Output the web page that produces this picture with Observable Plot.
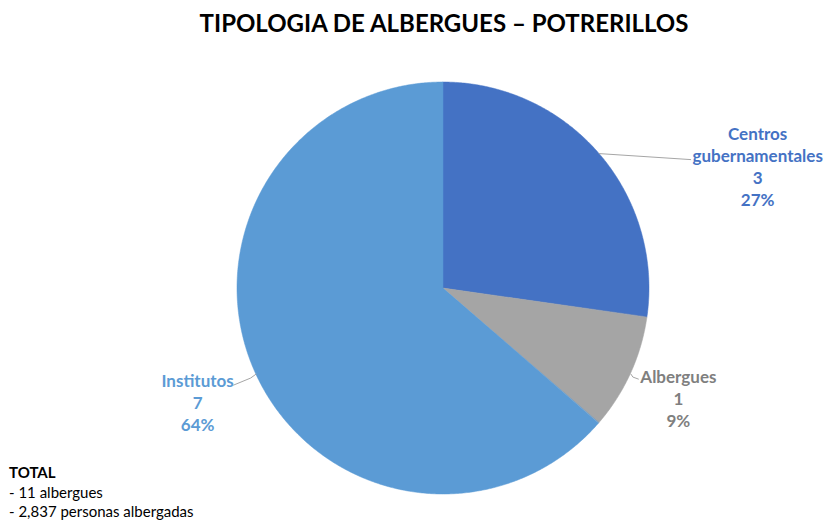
<!DOCTYPE html>
<html>
<head>
<meta charset="utf-8">
<script src="https://cdn.jsdelivr.net/npm/d3@7"></script>
<script src="https://cdn.jsdelivr.net/npm/@observablehq/plot@0.6"></script>
<style>
  html, body { margin: 0; padding: 0; background: #fff; }
  body { width: 824px; height: 521px; position: relative; overflow: hidden; font-family: Lato, "Open Sans", sans-serif; }
  #title { height: 50px; line-height: 46px; text-align: center; font-weight: 700; font-size: 24px; color: #000; padding-left: 64px; }
  #notes { position: absolute; left: 9px; top: 463px; font-size: 15px; line-height: 19.5px; color: #000; }
  #notes b { font-weight: 700; }
</style>
</head>
<body>
<div id="title">TIPOLOGIA DE ALBERGUES – POTRERILLOS</div>
<div id="chart"></div>
<div id="notes"><b>TOTAL</b><br>- 11 albergues<br>- 2,837 personas albergadas</div>
<script>
// ---- data ----
const categories = ["Centros gubernamentales", "Albergues", "Institutos"];
const counts = [3, 1, 7];
const sliceColors = ["#4472C4", "#A5A5A5", "#5B9BD5"];
const labelColors = ["#4472C4", "#7F7F7F", "#5B9BD5"];

// ---- layout (pixels) ----
const R = 206;
const labelOffset = [[158.5, 12.5], [47.5, 24], [-58.5, 28]];
const leaderOffsets = [
  [[0, 0], [91.5, 6]],
  [[0, 0], [2, 3], [7.5, 5]],
  [[0, 0], [-5.5, 4], [-22.5, 11]]
];

const total = d3.sum(counts);
const arcs = d3.pie().sort(null).value(d => d)(counts);

// wedge polygons
const wedges = [];
arcs.forEach((a, i) => {
  const n = Math.max(2, Math.ceil((a.endAngle - a.startAngle) / (Math.PI / 360)));
  for (let k = 0; k <= n; k++) {
    const t = a.startAngle + (a.endAngle - a.startAngle) * k / n;
    wedges.push({cat: categories[i], x1: 0, y1: 0, x2: R * Math.sin(t), y2: R * Math.cos(t)});
  }
});

const mids = arcs.map(a => {
  const m = (a.startAngle + a.endAngle) / 2;
  return [R * Math.sin(m), R * Math.cos(m)];
});

const leaders = [];
leaderOffsets.forEach((pts, i) => {
  pts.forEach(([dx, dy]) => leaders.push({cat: categories[i], x: mids[i][0] + dx, y: mids[i][1] - dy}));
});

const labels = categories.map((c, i) => ({
  cat: c,
  x: mids[i][0] + labelOffset[i][0],
  y: mids[i][1] - labelOffset[i][1],
  text: `${c.replace(" ", "\n")}\n${counts[i]}\n${Math.round(counts[i] / total * 100)}%`,
  color: labelColors[i]
}));

const chart = Plot.plot({
  width: 824,
  height: 471,
  margin: 0,
  x: {domain: [-443, 381], range: [0, 824], axis: null},
  y: {domain: [-233, 238], range: [471, 0], axis: null},
  color: {domain: categories, range: sliceColors},
  style: {fontFamily: "Lato, 'Open Sans', sans-serif", background: "#fff"},
  marks: [
    Plot.area(wedges, {x1: "x1", y1: "y1", x2: "x2", y2: "y2", z: "cat", fill: "cat", stroke: "cat", strokeWidth: 0.5}),
    Plot.line(leaders, {x: "x", y: "y", z: "cat", stroke: "#A6A6A6", strokeWidth: 1}),
    ...labels.map(l => Plot.text([l], {
      x: "x", y: "y", text: "text", fill: l.color,
      fontSize: 17, fontWeight: "bold", lineHeight: 1.3, lineAnchor: "middle", textAnchor: "middle"
    }))
  ]
});
document.getElementById("chart").appendChild(chart);
</script>
</body>
</html>
